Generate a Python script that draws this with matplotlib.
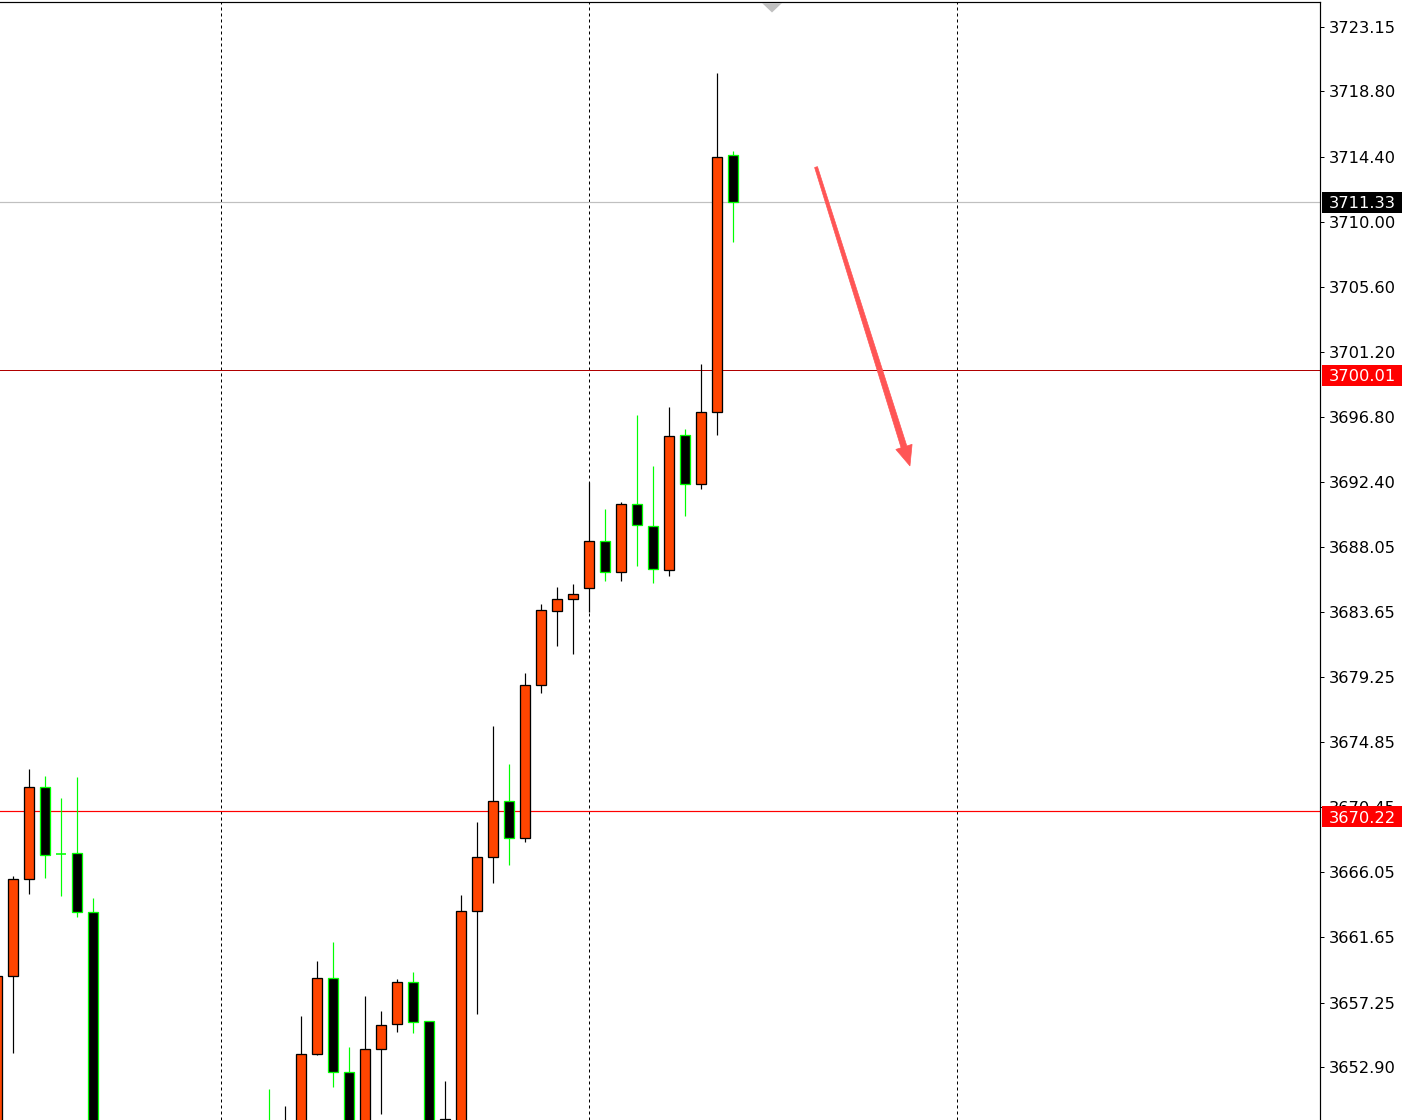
import numpy as np
import matplotlib
matplotlib.use("Agg")
import matplotlib.pyplot as plt
from matplotlib.patches import Polygon, Rectangle
from matplotlib.transforms import IdentityTransform

nan = np.nan

# ---- OHLC data (one entry per bar, NaN = bar entirely outside the visible range) ----
opens = [3645.00, 3659.05, 3665.60, 3671.81, 3667.29, 3667.33, 3663.37,
         nan, nan, nan, nan, nan, nan, nan, nan, nan, nan,
         3648.50, 3645.00, 3648.50, 3653.78, 3658.91, 3652.56, 3648.90, 3654.12,
         3655.80, 3658.64, 3656.01, 3647.00, 3647.00, 3663.44, 3667.08, 3670.87,
         3668.37, 3678.70, 3683.70, 3684.51, 3685.26, 3688.43, 3686.34, 3690.93,
         3689.44, 3686.47, 3695.59, 3692.31, 3697.14, 3714.50]
highs = [3659.05, 3665.80, 3673.03, 3672.56, 3671.07, 3672.49, 3664.32,
         nan, nan, nan, nan, nan, nan, nan, nan, nan, nan,
         3651.41, 3650.27, 3656.35, 3660.06, 3661.34, 3654.25, 3657.70, 3656.68,
         3658.84, 3659.32, 3656.01, 3651.95, 3664.52, 3669.45, 3675.93, 3673.37,
         3679.51, 3684.17, 3685.32, 3685.53, 3692.42, 3690.59, 3691.06, 3696.94,
         3693.50, 3697.48, 3696.00, 3700.39, 3720.04, 3714.77]
lows = [3640.00, 3653.85, 3664.59, 3665.67, 3664.45, 3663.03, 3638.00,
        nan, nan, nan, nan, nan, nan, nan, nan, nan, nan,
        3645.00, 3644.00, 3648.00, 3653.71, 3651.55, 3648.00, 3648.00, 3649.73,
        3655.26, 3655.20, 3646.00, 3646.00, 3646.00, 3656.48, 3665.33, 3666.54,
        3668.10, 3678.16, 3681.34, 3680.80, 3683.63, 3685.73, 3685.73, 3686.74,
        3685.59, 3686.07, 3690.12, 3691.94, 3695.59, 3708.63]
closes = [3659.05, 3665.60, 3671.81, 3667.22, 3667.29, 3663.37, 3640.00,
          nan, nan, nan, nan, nan, nan, nan, nan, nan, nan,
          3646.00, 3648.50, 3653.78, 3658.91, 3652.56, 3648.90, 3654.12, 3655.74,
          3658.64, 3655.94, 3647.00, 3649.39, 3663.44, 3667.08, 3670.87, 3668.37,
          3678.70, 3683.77, 3684.51, 3684.85, 3688.43, 3686.34, 3690.93, 3689.51,
          3686.54, 3695.52, 3692.28, 3697.14, 3714.37, 3711.33]

price_ticks = [3723.15, 3718.80, 3714.40, 3710.00, 3705.60, 3701.20, 3696.80,
               3692.40, 3688.05, 3683.65, 3679.25, 3674.85, 3670.45, 3666.05,
               3661.65, 3657.25, 3652.90]
grid_bars = [14, 37, 60]

bid_price = 3711.33
level_upper = 3700.01
level_lower = 3670.22

arrow_start = (51.19, 3713.69)
arrow_end = (57.06, 3693.50)

# ---- figure ----
W, H = 1410, 1120
DPI = 100
plt.rcParams['lines.scale_dashes'] = False
fig = plt.figure(figsize=(W / DPI, H / DPI), dpi=DPI, facecolor='white')
ax = fig.add_axes([0, 0, 1320 / W, 1118 / H])
ax.set_facecolor('white')

n = len(opens)
xs = np.arange(n)
BULL_FACE = '#FF4500'
BULL_EDGE = '#000000'
BEAR_FACE = '#000000'
BEAR_EDGE = '#00FF00'
px = 72 / DPI  # one pixel in points
FS = 11.7

for x, o, h, l, c in zip(xs, opens, highs, lows, closes):
    if np.isnan(o):
        continue
    if c > o:
        face, edge = BULL_FACE, BULL_EDGE
    else:
        face, edge = BEAR_FACE, BEAR_EDGE
    ax.vlines(x, l, h, color=edge, linewidth=1.2 * px, zorder=2)
    if c == o:
        ax.hlines(o, x - 0.33, x + 0.33, color=BEAR_EDGE, linewidth=1.6 * px, zorder=3)
    else:
        ax.bar(x, abs(c - o), bottom=min(o, c), width=0.6, color=face,
               edgecolor=edge, linewidth=1.3 * px, zorder=3)

# horizontal levels
ax.axhline(bid_price, color='#C0C0C0', linewidth=1.2 * px, zorder=1)
ax.axhline(level_upper, color='#B00000', linewidth=1.0 * px, zorder=1)
ax.axhline(level_lower, color='#FF0000', linewidth=1.2 * px, zorder=1)

# limits (pixel -> value mapping)
ax.set_xlim(0.1875, 82.6875)
ax.set_ylim(3649.32, 3724.84)

# vertical grid
ax.set_xticks(grid_bars)
ax.tick_params(axis='x', which='both', bottom=False, labelbottom=False)
ax.grid(axis='x', color='black', linewidth=1.0 * px, linestyle=(0, (3 * px, 3 * px)))
ax.set_axisbelow(True)

# price axis
ax.yaxis.tick_right()
ax.set_yticks(price_ticks)
ax.set_yticklabels([f'{v:.2f}' for v in price_ticks])
ax.tick_params(axis='y', direction='out', length=4 * px, width=1 * px, pad=5 * px,
               labelsize=FS, labelcolor='black', colors='black')
for lab in ax.get_yticklabels():
    lab.set_fontfamily('DejaVu Sans')

for s in ['left', 'bottom']:
    ax.spines[s].set_visible(False)
for s in ['right', 'top']:
    ax.spines[s].set_color('black')
    ax.spines[s].set_linewidth(1.2 * px)

# price boxes on the axis
fig.canvas.draw()
ident = IdentityTransform()


def price_box(value, bg, offset_px):
    _, yd = ax.transData.transform((0, value))
    yc = yd - offset_px
    rect = Rectangle((1322, yc - 10.5), 80, 21, facecolor=bg, edgecolor='none',
                     transform=ident, zorder=5)
    fig.add_artist(rect)
    fig.text(1329 / W, yc / H, f'{value:.2f}', color='white', fontsize=FS,
             family='DejaVu Sans', ha='left', va='center_baseline', zorder=6)


price_box(bid_price, '#000000', 0)
price_box(level_upper, '#FF0000', 5.5)
price_box(level_lower, '#FF0000', 6.0)

# shift marker triangle at the top
tri = Polygon([(762, H - 3), (782, H - 3), (772, H - 12.5)], closed=True,
              facecolor='#C0C0C0', edgecolor='none', transform=ident, zorder=5)
fig.add_artist(tri)

# red arrow drawn as tapered polygon
p0 = ax.transData.transform(arrow_start)
p1 = ax.transData.transform(arrow_end)
d = p1 - p0
L = np.hypot(*d)
u = d / L
nrm = np.array([-u[1], u[0]])
head_len, head_w = 20.0, 17.0
w0, w1 = 3.0, 6.0
base = p1 - u * head_len
pts = [p0 + nrm * w0 / 2,
       base + nrm * w1 / 2,
       base + nrm * head_w / 2,
       p1,
       base - nrm * head_w / 2,
       base - nrm * w1 / 2,
       p0 - nrm * w0 / 2]
arrow = Polygon(pts, closed=True, facecolor='#FF5555', edgecolor='#FF5555',
                linewidth=0.5, transform=ident, zorder=6)
fig.add_artist(arrow)

fig.savefig('out.png', dpi=DPI, facecolor='white')
